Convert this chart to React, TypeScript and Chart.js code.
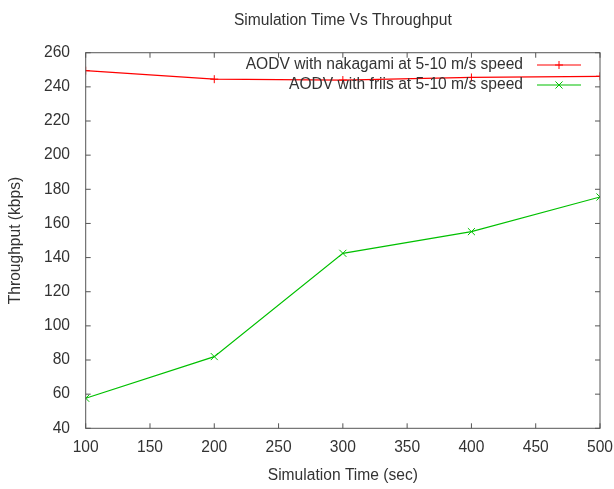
import React, { useEffect, useRef } from "react";
import { Chart, registerables } from "chart.js";

Chart.register(...registerables);

const titleText = "Simulation Time Vs Throughput";
const xAxisTitle = "Simulation Time (sec)";
const yAxisTitle = "Throughput (kbps)";
const simTimes = [100, 200, 300, 400, 500];
const nakagami = [249.5, 244.5, 244, 245.5, 246.2];
const friis = [57.6, 82, 142.5, 155.2, 175.5];
const seriesLabels = [
  "AODV with nakagami at 5-10 m/s speed",
  "AODV with friis at 5-10 m/s speed",
];
const seriesColors = ["#ff0000", "#00c000"];

const FONT = "'Liberation Sans', Arial, sans-serif";
const FSIZE = 15.6;
const TEXT = "#333333";

const framePlugin = {
  id: "frame",
  afterDatasetsDraw(chart: any) {
    const { ctx, chartArea: a, scales } = chart;
    ctx.save();
    ctx.strokeStyle = "#555555";
    ctx.lineWidth = 1;
    ctx.strokeRect(a.left, a.top, a.right - a.left, a.bottom - a.top);
    const tl = 5;
    ctx.beginPath();
    for (const t of scales.x.ticks) {
      const px = scales.x.getPixelForValue(t.value);
      ctx.moveTo(px, a.bottom);
      ctx.lineTo(px, a.bottom - tl);
      ctx.moveTo(px, a.top);
      ctx.lineTo(px, a.top + tl);
    }
    for (const t of scales.y.ticks) {
      const py = scales.y.getPixelForValue(t.value);
      ctx.moveTo(a.left, py);
      ctx.lineTo(a.left + tl, py);
      ctx.moveTo(a.right, py);
      ctx.lineTo(a.right - tl, py);
    }
    ctx.stroke();

    // legend (gnuplot style: text right-aligned, sample on the right)
    ctx.font = `${FSIZE}px ${FONT}`;
    ctx.textAlign = "right";
    ctx.textBaseline = "middle";
    const rows = [65, 85];
    chart.data.datasets.forEach((ds: any, i: number) => {
      const y = rows[i];
      ctx.fillStyle = TEXT;
      ctx.fillText(ds.label, 523, y);
      ctx.strokeStyle = ds.borderColor;
      ctx.lineWidth = 1.2;
      ctx.beginPath();
      ctx.moveTo(537, y);
      ctx.lineTo(581, y);
      ctx.stroke();
      ctx.lineWidth = 1;
      ctx.beginPath();
      const mx = 559;
      if (ds.pointStyle === "cross") {
        const r = ds.pointRadius;
        ctx.moveTo(mx, y - r);
        ctx.lineTo(mx, y + r);
        ctx.moveTo(mx - r, y);
        ctx.lineTo(mx + r, y);
      } else {
        const r = ds.pointRadius * Math.cos(Math.PI / 4);
        ctx.moveTo(mx - r, y - r);
        ctx.lineTo(mx + r, y + r);
        ctx.moveTo(mx - r, y + r);
        ctx.lineTo(mx + r, y - r);
      }
      ctx.stroke();
    });
    ctx.restore();
  },
};

export default function App() {
  const ref = useRef<HTMLCanvasElement | null>(null);
  useEffect(() => {
    document.body.style.margin = "0";
    const chart = new Chart(ref.current as HTMLCanvasElement, {
      type: "line",
      data: {
        datasets: [
          {
            label: seriesLabels[0],
            data: simTimes.map((x, i) => ({ x, y: nakagami[i] })),
            borderColor: seriesColors[0],
            backgroundColor: seriesColors[0],
            borderWidth: 1.2,
            pointStyle: "cross",
            pointRadius: 4,
            pointBorderWidth: 1,
            tension: 0,
          },
          {
            label: seriesLabels[1],
            data: simTimes.map((x, i) => ({ x, y: friis[i] })),
            borderColor: seriesColors[1],
            backgroundColor: seriesColors[1],
            borderWidth: 1.2,
            pointStyle: "crossRot",
            pointRadius: 5,
            pointBorderWidth: 1,
            tension: 0,
          },
        ],
      },
      options: {
        animation: false,
        responsive: true,
        maintainAspectRatio: false,
        layout: { padding: { left: 0, right: 14, top: 0, bottom: 0 } },
        plugins: {
          legend: { display: false },
          tooltip: { enabled: false },
          title: {
            display: true,
            fullSize: false,
            text: titleText,
            color: TEXT,
            font: { family: FONT, size: FSIZE, weight: "normal" },
            padding: { top: 11, bottom: 23 },
          },
        },
        scales: {
          x: {
            type: "linear",
            min: 100,
            max: 500,
            afterFit(scale: any) {
              scale.height = 60.7;
              scale.paddingLeft = 0;
              scale.paddingRight = 0;
            },
            ticks: {
              stepSize: 50,
              color: TEXT,
              padding: 10.4,
              maxRotation: 0,
              font: { family: FONT, size: FSIZE },
            },
            grid: { display: false, drawTicks: false },
            border: { display: false },
            title: {
              display: true,
              text: xAxisTitle,
              color: TEXT,
              font: { family: FONT, size: FSIZE },
              padding: { top: 0, bottom: 3.6 },
            },
          },
          y: {
            min: 40,
            max: 260,
            afterFit(scale: any) {
              scale.width = 85.7;
              scale.paddingTop = 0;
              scale.paddingBottom = 0;
            },
            ticks: {
              stepSize: 20,
              color: TEXT,
              padding: 15.7,
              font: { family: FONT, size: FSIZE },
            },
            grid: { display: false, drawTicks: false },
            border: { display: false },
            title: {
              display: true,
              text: yAxisTitle,
              color: TEXT,
              font: { family: FONT, size: FSIZE },
              padding: { top: 6.1, bottom: 0 },
            },
          },
        },
      },
      plugins: [framePlugin],
    });
    return () => chart.destroy();
  }, []);
  return (
    <div style={{ position: "absolute", left: 0, top: 0, width: 614, height: 489 }}>
      <canvas ref={ref} />
    </div>
  );
}
